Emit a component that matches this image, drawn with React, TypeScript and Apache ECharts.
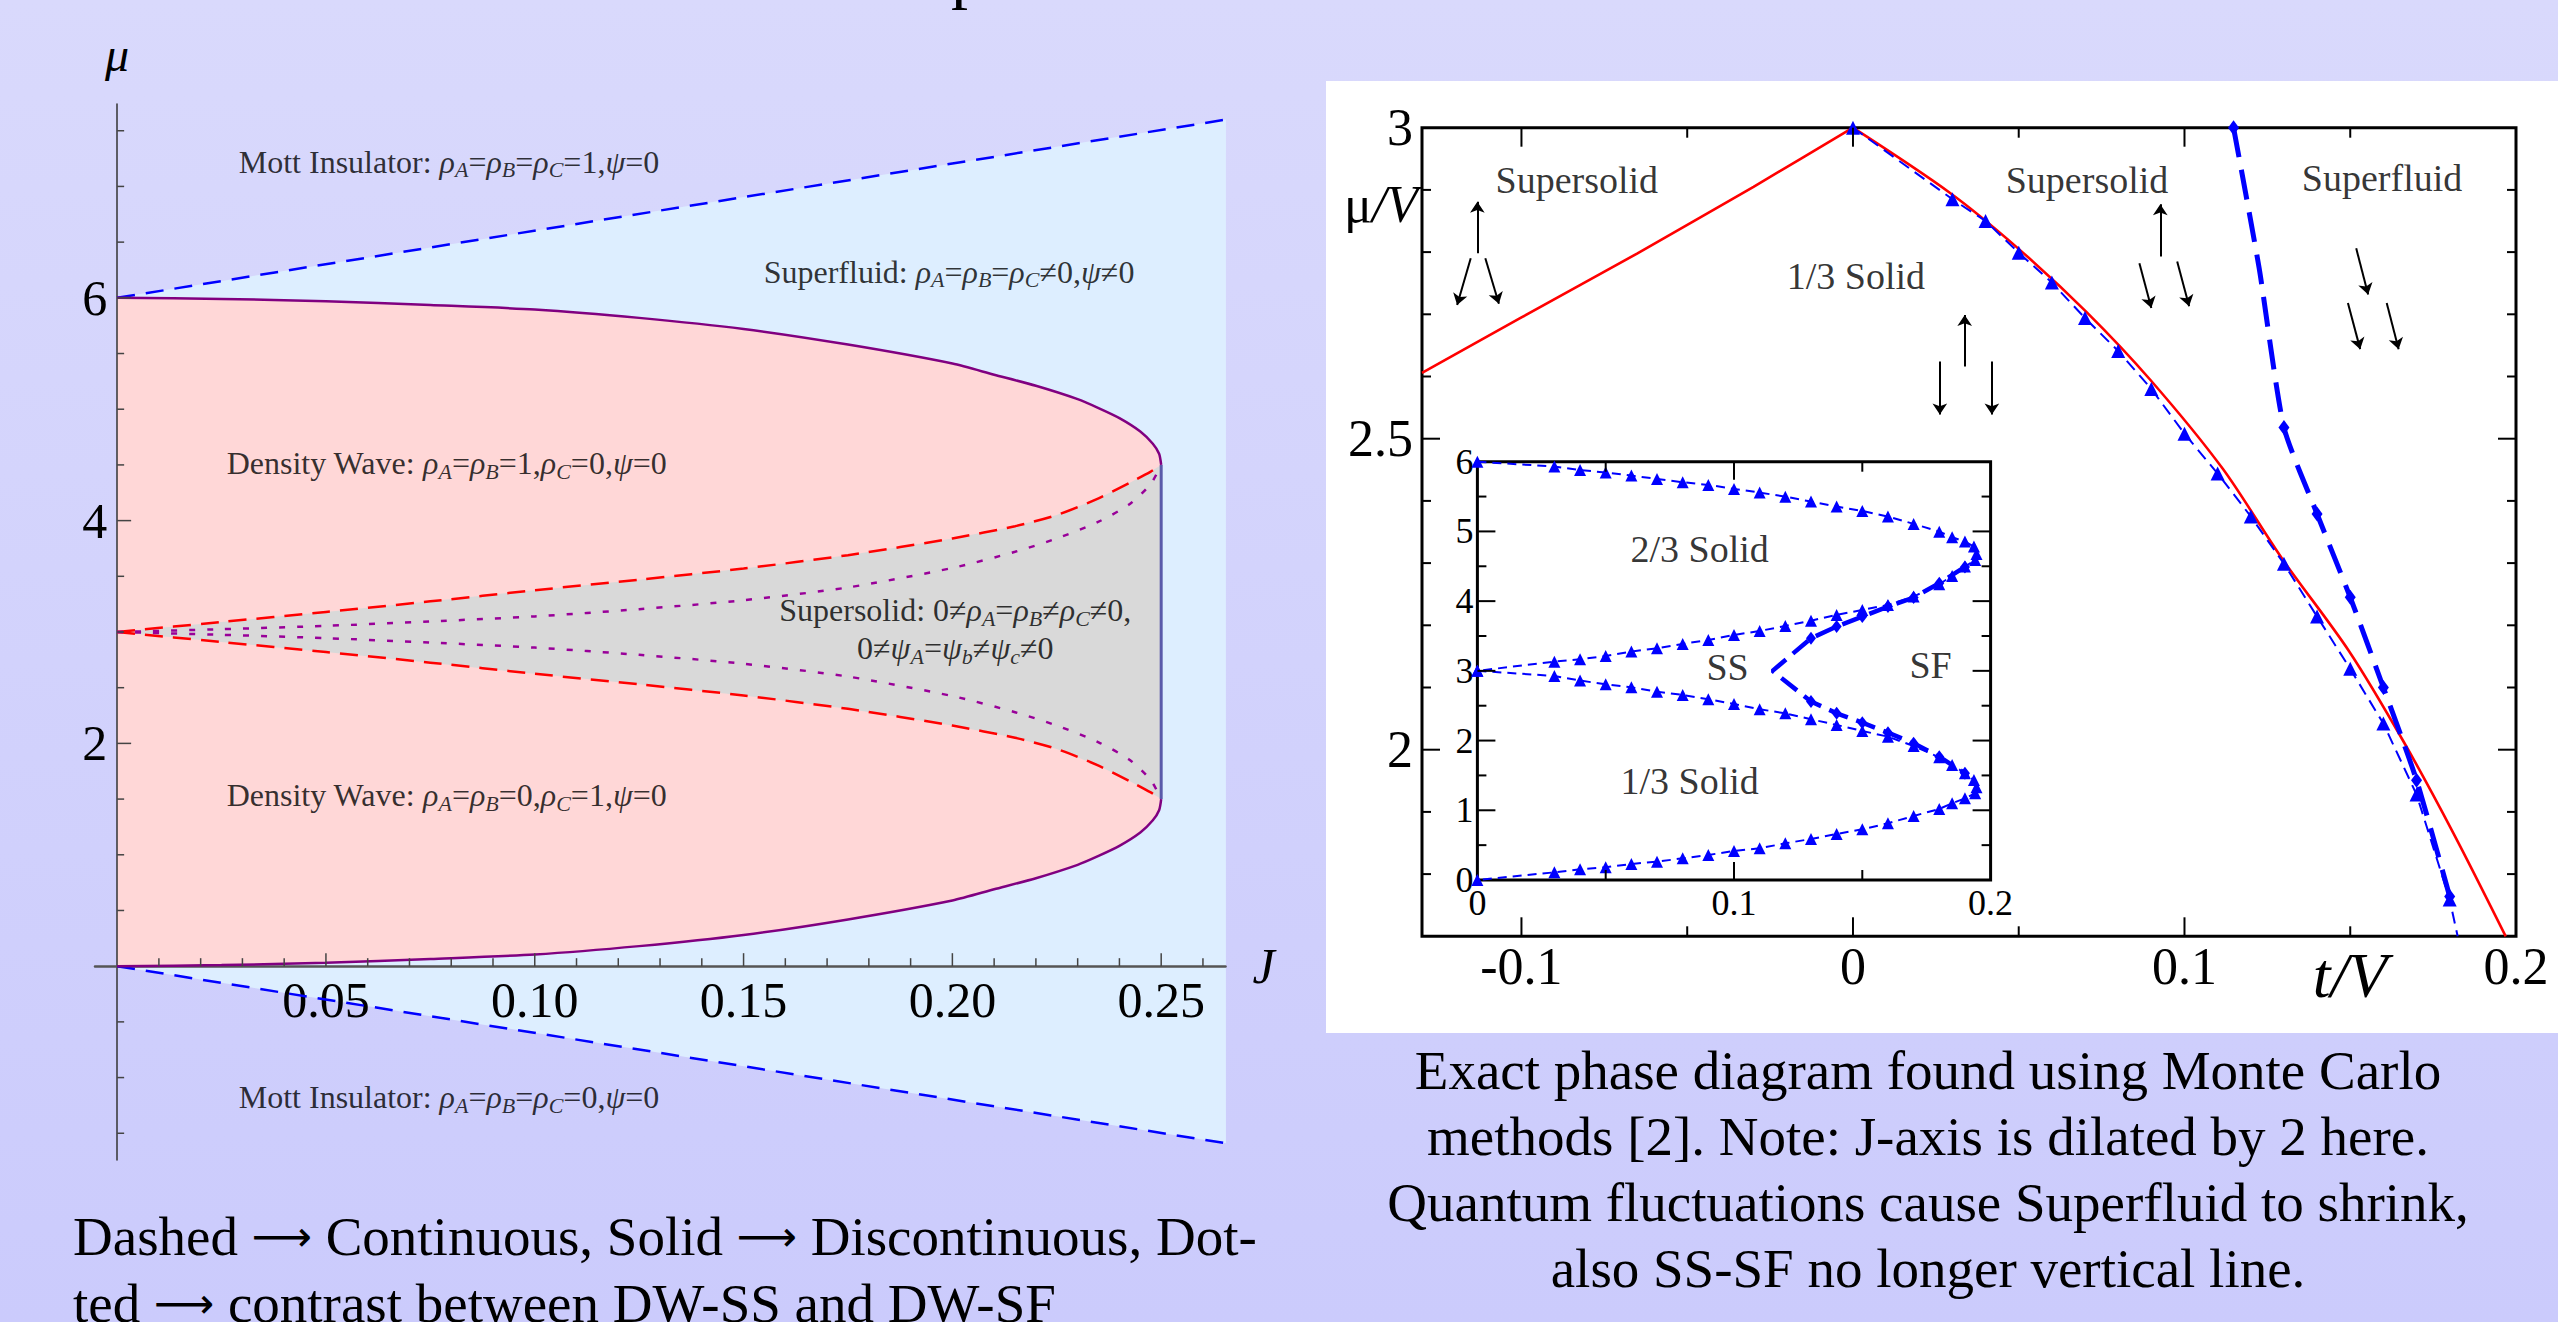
import { useEffect, useRef } from "react";
import * as echarts from "echarts";

const FONT = "'Liberation Serif', 'Times New Roman', 'DejaVu Serif', serif";

// ================= LEFT PANEL (mean-field, J vs mu) =================
const jMajorTicks = [0.05, 0.1, 0.15, 0.2, 0.25];
const jMinorTicks = [0.01, 0.02, 0.03, 0.04, 0.06, 0.07, 0.08, 0.09, 0.11, 0.12, 0.13, 0.14, 0.16, 0.17, 0.18, 0.19, 0.21, 0.22, 0.23, 0.24, 0.26];
const muMajorTicks = [2, 4, 6];
const muMinorTicks = [-1.5, -1, -0.5, 0.5, 1, 1.5, 2.5, 3, 3.5, 4.5, 5, 5.5, 6.5, 7, 7.5];

const mottJ = [0, 0.2655];
const mottUpperMu = [6.0, 7.6];
const mottLowerMu = [0.0, -1.59];

const dwOuterJ = [0, 0.025, 0.05, 0.075, 0.1, 0.125, 0.15, 0.175, 0.2, 0.21, 0.22, 0.23, 0.235, 0.24, 0.245, 0.248, 0.2495, 0.25];
const dwOuterUpperMu = [6.0, 5.99, 5.97, 5.935, 5.895, 5.82, 5.72, 5.58, 5.41, 5.31, 5.21, 5.09, 5.01, 4.92, 4.8, 4.69, 4.6, 4.5];
const dwOuterLowerMu = [0.0, 0.01, 0.03, 0.065, 0.105, 0.18, 0.28, 0.42, 0.59, 0.69, 0.79, 0.91, 0.99, 1.08, 1.2, 1.31, 1.4, 1.5];

const ssJ = [0, 0.025, 0.05, 0.075, 0.1, 0.125, 0.15, 0.175, 0.2, 0.215, 0.225, 0.235, 0.2425, 0.2475, 0.25];
const ssUpperMu = [3.0, 3.09, 3.18, 3.275, 3.375, 3.47, 3.57, 3.69, 3.84, 3.95, 4.05, 4.2, 4.34, 4.44, 4.5];
const ssLowerMu = [3.0, 2.91, 2.82, 2.725, 2.625, 2.53, 2.43, 2.31, 2.16, 2.05, 1.95, 1.8, 1.66, 1.56, 1.5];
const dotUpperMu = [3.0, 3.025, 3.055, 3.095, 3.14, 3.205, 3.285, 3.4, 3.575, 3.72, 3.84, 3.99, 4.15, 4.33, 4.5];
const dotLowerMu = [3.0, 2.975, 2.945, 2.905, 2.86, 2.795, 2.715, 2.6, 2.425, 2.28, 2.16, 2.01, 1.85, 1.67, 1.5];

const ssSfJ = [0.25, 0.25];
const ssSfMu = [1.5, 4.5];

// ================= RIGHT PANEL (Monte Carlo, t/V vs mu/V) =================
const tMajorTicks = [-0.1, 0, 0.1];
const tMinorTicks = [-0.05, 0.05, 0.15];
const tLabels = [-0.1, 0, 0.1, 0.2];
const muVMajorTicks = [2, 2.5];
const muVMinorTicks = [1.8, 1.9, 2.1, 2.2, 2.3, 2.4, 2.6, 2.7, 2.8, 2.9];
const muVLabels = [2, 2.5, 3];

const redLeftT = [-0.13, -0.1, -0.065, -0.03, 0];
const redLeftMu = [2.606, 2.695, 2.798, 2.905, 3.0];
const redRightT = [0, 0.0293, 0.0498, 0.0704, 0.0898, 0.1115, 0.1296, 0.1497, 0.1662, 0.1813, 0.1969];
const redRightMu = [3.0, 2.895, 2.806, 2.704, 2.594, 2.452, 2.306, 2.158, 2.012, 1.864, 1.7];

const triT = [0, 0.03, 0.04, 0.05, 0.06, 0.07, 0.08, 0.09, 0.1, 0.11, 0.12, 0.13, 0.14, 0.15, 0.16, 0.17, 0.18, 0.1824];
const triMu = [3.0, 2.885, 2.85, 2.799, 2.751, 2.694, 2.641, 2.58, 2.508, 2.444, 2.375, 2.299, 2.214, 2.13, 2.042, 1.928, 1.759, 1.7];
const triMarked = [1, 1, 1, 1, 1, 1, 1, 1, 1, 1, 1, 1, 1, 1, 1, 1, 1, 0];

const diaT = [0.1148, 0.1225, 0.13, 0.14, 0.15, 0.16, 0.17, 0.18];
const diaMu = [3.0, 2.775, 2.518, 2.379, 2.245, 2.1, 1.951, 1.764];
const diaMarked = [1, 0, 1, 1, 1, 1, 1, 1];

// spin arrows: [tail t, tail mu, head t, head mu]
const spinArrows = [
  [-0.1133, 2.798, -0.1133, 2.881],
  [-0.1153, 2.79, -0.1194, 2.715],
  [-0.1109, 2.79, -0.1068, 2.717],
  [0.0337, 2.616, 0.0337, 2.699],
  [0.0262, 2.624, 0.0262, 2.539],
  [0.0419, 2.624, 0.0419, 2.539],
  [0.0927, 2.793, 0.0927, 2.877],
  [0.0864, 2.782, 0.09, 2.71],
  [0.0978, 2.785, 0.1014, 2.713],
  [0.1518, 2.806, 0.1554, 2.732],
  [0.1493, 2.718, 0.153, 2.644],
  [0.161, 2.718, 0.1646, 2.644],
];

// ================= INSET =================
const inTMajorTicks = [0.1];
const inTMinorTicks = [0.05, 0.15];
const inMuMajorTicks = [1, 2, 3, 4, 5];
const inMuMinorTicks = [0.5, 1.5, 2.5, 3.5, 4.5, 5.5];
const inTLabels = [0, 0.1, 0.2];
const inMuLabels = [0, 1, 2, 3, 4, 5, 6];

const lobeT = [0, 0.03, 0.04, 0.05, 0.06, 0.07, 0.08, 0.09, 0.1, 0.11, 0.12, 0.13, 0.14, 0.15, 0.16, 0.17, 0.18, 0.185, 0.19, 0.1935, 0.1945, 0.194, 0.19, 0.185, 0.18, 0.17, 0.16, 0.15, 0.14, 0.13, 0.12, 0.11, 0.1, 0.09, 0.08, 0.07, 0.06, 0.05, 0.04, 0.03, 0];
const upperLobeMu = [6.0, 5.93, 5.882, 5.844, 5.801, 5.753, 5.706, 5.667, 5.61, 5.557, 5.499, 5.428, 5.356, 5.294, 5.213, 5.108, 4.997, 4.917, 4.854, 4.782, 4.677, 4.591, 4.495, 4.362, 4.242, 4.065, 3.945, 3.874, 3.802, 3.72, 3.644, 3.572, 3.515, 3.443, 3.386, 3.324, 3.276, 3.214, 3.166, 3.132, 3.0];
const lowerLobeMu = [3.0, 2.927, 2.86, 2.808, 2.765, 2.702, 2.654, 2.593, 2.525, 2.449, 2.391, 2.306, 2.224, 2.138, 2.056, 1.922, 1.76, 1.65, 1.531, 1.435, 1.33, 1.244, 1.172, 1.1, 1.019, 0.918, 0.813, 0.727, 0.66, 0.588, 0.526, 0.455, 0.416, 0.359, 0.311, 0.263, 0.23, 0.182, 0.153, 0.11, 0.0];

const inSsT = [0.19, 0.18, 0.17, 0.16, 0.15, 0.14, 0.13, 0.115, 0.13, 0.14, 0.15, 0.16, 0.17, 0.18, 0.19];
const inSsMu = [4.49, 4.256, 4.051, 3.922, 3.778, 3.635, 3.467, 3.0, 2.56, 2.391, 2.257, 2.113, 1.961, 1.769, 1.53];
const inSsMarked = [1, 1, 1, 1, 1, 1, 1, 0, 1, 1, 1, 1, 1, 1, 1];

// ================= TEXT =================
const rho = (s: string) => `{i|ρ}{s|${s}}`;
const psi = (s?: string) => (s ? `{i|ψ}{s|${s}}` : `{i|ψ}`);
const leftNotes = [
  { at: [0.029, 7.22], pos: "right", text: `Mott Insulator: ${rho("A")}=${rho("B")}=${rho("C")}=1,${psi()}=0` },
  { at: [0.1547, 6.233], pos: "right", text: `Superfluid: ${rho("A")}=${rho("B")}=${rho("C")}≠0,${psi()}≠0` },
  { at: [0.0261, 4.517], pos: "right", text: `Density Wave: ${rho("A")}=${rho("B")}=1,${rho("C")}=0,${psi()}=0` },
  { at: [0.2007, 3.026], pos: "inside", text: `Supersolid: 0≠${rho("A")}=${rho("B")}≠${rho("C")}≠0,\n0≠${psi("A")}=${psi("b")}≠${psi("c")}≠0` },
  { at: [0.0261, 1.536], pos: "right", text: `Density Wave: ${rho("A")}=${rho("B")}=0,${rho("C")}=1,${psi()}=0` },
  { at: [0.029, -1.176], pos: "right", text: `Mott Insulator: ${rho("A")}=${rho("B")}=${rho("C")}=0,${psi()}=0` },
];
const rightNotes = [
  { at: [-0.0833, 2.916], text: "Supersolid" },
  { at: [0.0009, 2.762], text: "1/3 Solid" },
  { at: [0.0706, 2.916], text: "Supersolid" },
  { at: [0.1596, 2.919], text: "Superfluid" },
];
const insetNotes = [
  { at: [0.0866, 4.75], text: "2/3 Solid" },
  { at: [0.0975, 3.05], text: "SS" },
  { at: [0.1766, 3.08], text: "SF" },
  { at: [0.0827, 1.42], text: "1/3 Solid" },
];
const leftCaption = [
  "Dashed {a|⟶} Continuous, Solid {a|⟶} Discontinuous, Dot-",
  "ted {a|⟶} contrast between DW-SS and DW-SF",
];
const rightCaption = [
  "Exact phase diagram found using Monte Carlo",
  "methods [2]. Note: J-axis is dilated by 2 here.",
  "Quantum fluctuations cause Superfluid to shrink,",
  "also SS-SF no longer vertical line.",
];

// ================= helpers =================
const zip = (xs: number[], ys: number[]) => xs.map((x, i) => [x, ys[i]]);
const marked = (xs: number[], ys: number[], m: number[]) =>
  xs.map((x, i) => (m[i] ? [x, ys[i]] : { value: [x, ys[i]], symbol: "none" }));

function polygonSeries(pts: number[][], fill: string, z: number) {
  return {
    type: "custom", xAxisIndex: 0, yAxisIndex: 0, z, silent: true, clip: false,
    data: [pts[0]],
    renderItem: (_p: any, api: any) => ({
      type: "polygon",
      shape: { points: pts.map((p) => api.coord(p)) },
      style: { fill, stroke: "none" },
    }),
  };
}

function tickRows(vals: number[], axis: "x" | "y", fixed: number, dx: number, dy: number) {
  return vals.map((v) => (axis === "x" ? [v, fixed, dx, dy] : [fixed, v, dx, dy]));
}

function tickSeries(rows: number[][], idx: number, color: string, width: number) {
  return {
    type: "custom", xAxisIndex: idx, yAxisIndex: idx, z: 7, silent: true, clip: false,
    data: rows,
    renderItem: (_p: any, api: any) => {
      const p = api.coord([api.value(0), api.value(1)]);
      return {
        type: "line",
        shape: { x1: p[0], y1: p[1], x2: p[0] + api.value(2), y2: p[1] + api.value(3) },
        style: { stroke: color, lineWidth: width },
      };
    },
  };
}

// tick labels drawn at the axis that sits on zero (left panel)
function axisTextSeries(vals: number[], axis: "x" | "y", fixed: number, dx: number, dy: number,
  align: string, vAlign: string, fontSize: number, fmt: (v: number) => string) {
  return {
    type: "custom", xAxisIndex: 0, yAxisIndex: 0, z: 4, silent: true, clip: false,
    data: vals.map((v) => (axis === "x" ? [v, fixed] : [fixed, v])),
    renderItem: (_p: any, api: any) => {
      const v0 = api.value(0);
      const v1 = api.value(1);
      const c = api.coord([v0, v1]);
      return {
        type: "text", x: c[0] + dx, y: c[1] + dy,
        style: {
          text: fmt(axis === "x" ? v0 : v1), fill: "#000", fontFamily: FONT, fontSize,
          align, textAlign: align, verticalAlign: vAlign, textVerticalAlign: vAlign,
        },
      };
    },
  };
}

function lineSeries(data: any[], idx: number, color: string, width: number, type: any, extra: any = {}) {
  return {
    type: "line", xAxisIndex: idx, yAxisIndex: idx, data, z: 5, silent: true, clip: false,
    showSymbol: false, symbol: "none", animation: false,
    lineStyle: { color, width, type },
    itemStyle: { color },
    emphasis: { disabled: true },
    ...extra,
  };
}

function labelSeries(notes: any[], idx: number, fontSize: number, rich?: any, lineHeight?: number) {
  return {
    type: "scatter", xAxisIndex: idx, yAxisIndex: idx, z: 6, silent: true,
    symbolSize: 1, itemStyle: { color: "rgba(0,0,0,0)" },
    data: notes.map((n) => ({
      value: n.at,
      txt: n.text,
      label: n.pos === "right" ? { position: "right", align: "left" } : { position: "inside", align: "center" },
    })),
    label: {
      show: true, distance: 0, color: "#000", fontFamily: FONT, fontSize,
      lineHeight: lineHeight || fontSize * 1.2,
      formatter: (p: any) => p.data.txt,
      rich,
    },
  };
}

function gtext(x: number, y: number, text: string, fontSize: number, align: string, extra: any = {}) {
  return {
    type: "text", x, y, z: 10, silent: true,
    style: {
      text, fill: "#000", fontFamily: FONT, fontSize,
      align, textAlign: align, verticalAlign: "middle", textVerticalAlign: "middle",
      ...extra,
    },
  };
}

function buildOption() {
  const outerUp = zip(dwOuterJ, dwOuterUpperMu);
  const outerLo = zip(dwOuterJ, dwOuterLowerMu);
  const ssUp = zip(ssJ, ssUpperMu);
  const ssLo = zip(ssJ, ssLowerMu);
  const dotUp = zip(ssJ, dotUpperMu);
  const dotLo = zip(ssJ, dotLowerMu);
  const mottUp = zip(mottJ, mottUpperMu);
  const mottLo = zip(mottJ, mottLowerMu);

  const blueRegion = [...mottUp, ...mottLo.slice().reverse()];
  const pinkRegion = [...outerUp, ...outerLo.slice().reverse()];
  const greyRegion = [...ssUp, ...ssLo.slice().reverse()];

  const leftRich = {
    i: { fontFamily: FONT, fontSize: 32, fontStyle: "italic", color: "#000", lineHeight: 38 },
    s: { fontFamily: FONT, fontSize: 22, fontStyle: "italic", color: "#000", verticalAlign: "bottom", lineHeight: 20 },
  };
  const captionRich = { a: { fontFamily: "'DejaVu Sans', sans-serif", fontSize: 42, color: "#000" } };

  const ax = { fontFamily: FONT, color: "#000" };

  const leftTicks = [
    ...tickRows(jMajorTicks, "x", 0, 0, -13),
    ...tickRows(jMinorTicks, "x", 0, 0, -8),
    ...tickRows(muMajorTicks, "y", 0, 14, 0),
    ...tickRows(muMinorTicks, "y", 0, 7, 0),
  ];
  const rightTicks = [
    ...tickRows(tMajorTicks, "x", 1.7, 0, -19),
    ...tickRows(tMinorTicks, "x", 1.7, 0, -10),
    ...tickRows(tMajorTicks, "x", 3.0, 0, 19),
    ...tickRows(tMinorTicks, "x", 3.0, 0, 10),
    ...tickRows(muVMajorTicks, "y", -0.13, 18, 0),
    ...tickRows(muVMinorTicks, "y", -0.13, 9, 0),
    ...tickRows(muVMajorTicks, "y", 0.2, -18, 0),
    ...tickRows(muVMinorTicks, "y", 0.2, -9, 0),
  ];
  const insetTicks = [
    ...tickRows(inTMajorTicks, "x", 0, 0, -18),
    ...tickRows(inTMinorTicks, "x", 0, 0, -10),
    ...tickRows(inTMajorTicks, "x", 6, 0, 18),
    ...tickRows(inTMinorTicks, "x", 6, 0, 10),
    ...tickRows(inMuMajorTicks, "y", 0, 18, 0),
    ...tickRows(inMuMinorTicks, "y", 0, 9, 0),
    ...tickRows(inMuMajorTicks, "y", 0.2, -18, 0),
    ...tickRows(inMuMinorTicks, "y", 0.2, -9, 0),
  ];

  return {
    animation: false,
    backgroundColor: "transparent",
    textStyle: { fontFamily: FONT },
    grid: [
      { left: 95, top: 104, width: 1130.5, height: 1056, show: false, containLabel: false, outerBoundsMode: "none" },
      { left: 1422, top: 127.7, width: 1094, height: 808.6, show: true, borderColor: "#000", borderWidth: 3, backgroundColor: "rgba(0,0,0,0)", containLabel: false, outerBoundsMode: "none" },
      { left: 1477.4, top: 461.7, width: 513.2, height: 418.3, show: true, borderColor: "#000", borderWidth: 3, backgroundColor: "#fff", containLabel: false, outerBoundsMode: "none" },
    ],
    xAxis: [
      {
        gridIndex: 0, type: "value", min: -0.0053, max: 0.2654, z: 4,
        splitLine: { show: false }, axisTick: { show: false }, minorTick: { show: false },
        axisLine: { show: true, onZero: true, lineStyle: { color: "#555", width: 2.5 } },
        axisLabel: { show: false },
        name: "J", nameLocation: "end", nameGap: 27,
        nameTextStyle: { fontSize: 50, fontStyle: "italic", ...ax },
      },
      {
        gridIndex: 1, type: "value", min: -0.13, max: 0.2, z: 4,
        splitLine: { show: false }, axisTick: { show: false },
        axisLine: { show: false, onZero: false },
        axisLabel: { customValues: tLabels, formatter: (v: number) => String(v), fontSize: 52, margin: 4, ...ax },
      },
      {
        gridIndex: 2, type: "value", min: 0, max: 0.2, z: 4,
        splitLine: { show: false }, axisTick: { show: false },
        axisLine: { show: false, onZero: false },
        axisLabel: { customValues: inTLabels, formatter: (v: number) => String(v), fontSize: 36, margin: 5, ...ax },
      },
    ],
    yAxis: [
      {
        gridIndex: 0, type: "value", min: -1.74, max: 7.74, z: 4,
        splitLine: { show: false }, axisTick: { show: false },
        axisLine: { show: true, onZero: true, lineStyle: { color: "#333", width: 1.5 } },
        axisLabel: { show: false },
        name: "μ", nameLocation: "end", nameGap: 26,
        nameTextStyle: { fontSize: 48, fontStyle: "italic", ...ax },
      },
      {
        gridIndex: 1, type: "value", min: 1.7, max: 3.0, z: 4,
        splitLine: { show: false }, axisTick: { show: false },
        axisLine: { show: false, onZero: false },
        axisLabel: { customValues: muVLabels, formatter: (v: number) => String(v), fontSize: 52, margin: 9, ...ax },
      },
      {
        gridIndex: 2, type: "value", min: 0, max: 6, z: 4,
        splitLine: { show: false }, axisTick: { show: false },
        axisLine: { show: false, onZero: false },
        axisLabel: { customValues: inMuLabels, formatter: (v: number) => String(v), fontSize: 36, margin: 4, ...ax },
      },
    ],
    graphic: [
      { type: "rect", z: -10, silent: true, shape: { x: 1326, y: 81, width: 1232, height: 952 }, style: { fill: "#ffffff" } },
      gtext(951, -27, "p", 68, "left"),
      gtext(1344, 204, "μ{v|/V}", 52, "left", { rich: { v: { fontFamily: FONT, fontSize: 52, fontStyle: "italic" } } }),
      gtext(2350, 975, "t/V", 64, "center", { fontStyle: "italic" }),
      ...leftCaption.map((t, i) => gtext(73, 1236 + i * 67, t, 55, "left", { rich: captionRich })),
      ...rightCaption.map((t, i) => gtext(1928, 1070 + i * 66, t, 55, "center")),
    ],
    series: [
      // ---- left fills ----
      polygonSeries(blueRegion, "#ddeeff", 1),
      polygonSeries(pinkRegion, "#ffd7d7", 2),
      polygonSeries(greyRegion, "#d9d9d9", 3),
      // ---- left tick labels (on the zero axes) ----
      axisTextSeries(jMajorTicks, "x", 0, 0, 9, "center", "top", 50, (v) => v.toFixed(2)),
      axisTextSeries(muMajorTicks, "y", 0, -10, 0, "right", "middle", 50, (v) => String(v)),
      // ---- left lines ----
      lineSeries(mottUp, 0, "#0000ff", 2.5, [18, 11]),
      lineSeries(mottLo, 0, "#0000ff", 2.5, [18, 11]),
      lineSeries(outerUp, 0, "#800080", 2.5, "solid", { smooth: 0.25 }),
      lineSeries(outerLo, 0, "#800080", 2.5, "solid", { smooth: 0.25 }),
      lineSeries(ssUp, 0, "#ff0000", 2.5, [18, 10], { smooth: 0.25 }),
      lineSeries(ssLo, 0, "#ff0000", 2.5, [18, 10], { smooth: 0.25 }),
      lineSeries(dotUp, 0, "#990099", 2.5, [6, 12], { smooth: 0.25 }),
      lineSeries(dotLo, 0, "#990099", 2.5, [6, 12], { smooth: 0.25 }),
      lineSeries(zip(ssSfJ, ssSfMu), 0, "#5a5aaa", 3, "solid"),
      labelSeries(leftNotes, 0, 32, leftRich, 38),
      tickSeries(leftTicks, 0, "#444", 1.5),
      // ---- right main ----
      lineSeries(zip(redLeftT, redLeftMu), 1, "#ff0000", 2.6, "solid", { smooth: 0.2 }),
      lineSeries(zip(redRightT, redRightMu), 1, "#ff0000", 2.6, "solid", { smooth: 0.3 }),
      lineSeries(marked(triT, triMu, triMarked), 1, "#0000ff", 2, [12, 7], {
        showSymbol: true, symbol: "triangle", symbolSize: 14,
      }),
      lineSeries(marked(diaT, diaMu, diaMarked), 1, "#0000ff", 5, [30, 13], {
        showSymbol: true, symbol: "diamond", symbolSize: [11, 15], smooth: 0.2,
      }),
      {
        type: "lines", coordinateSystem: "cartesian2d", xAxisIndex: 1, yAxisIndex: 1, z: 5, silent: true,
        symbol: ["none", "arrow"], symbolSize: 11,
        lineStyle: { color: "#000", width: 2, opacity: 1, curveness: 0 },
        data: spinArrows.map((a) => ({ coords: [[a[0], a[1]], [a[2], a[3]]] })),
      },
      labelSeries(rightNotes, 1, 38),
      tickSeries(rightTicks, 1, "#000", 2),
      // ---- inset ----
      lineSeries(zip(lobeT, upperLobeMu), 2, "#0000ff", 2, [9, 6], {
        showSymbol: true, symbol: "triangle", symbolSize: 12,
      }),
      lineSeries(zip(lobeT, lowerLobeMu), 2, "#0000ff", 2, [9, 6], {
        showSymbol: true, symbol: "triangle", symbolSize: 12,
      }),
      lineSeries(marked(inSsT, inSsMu, inSsMarked), 2, "#0000ff", 4.5, [20, 9], {
        showSymbol: true, symbol: "diamond", symbolSize: [10, 13],
      }),
      labelSeries(insetNotes, 2, 38),
      tickSeries(insetTicks, 2, "#000", 2),
    ],
  };
}

export default function App() {
  const ref = useRef<HTMLDivElement>(null);
  useEffect(() => {
    const chart = echarts.init(ref.current!, null, { renderer: "svg" });
    chart.setOption(buildOption() as any);
    return () => chart.dispose();
  }, []);
  return (
    <div
      style={{
        position: "fixed", left: 0, top: 0, width: 2558, height: 1322,
        background: "linear-gradient(#d9d9fc, #cbcbfc)", overflow: "hidden",
      }}
    >
      <div ref={ref} style={{ width: 2558, height: 1322 }} />
    </div>
  );
}
